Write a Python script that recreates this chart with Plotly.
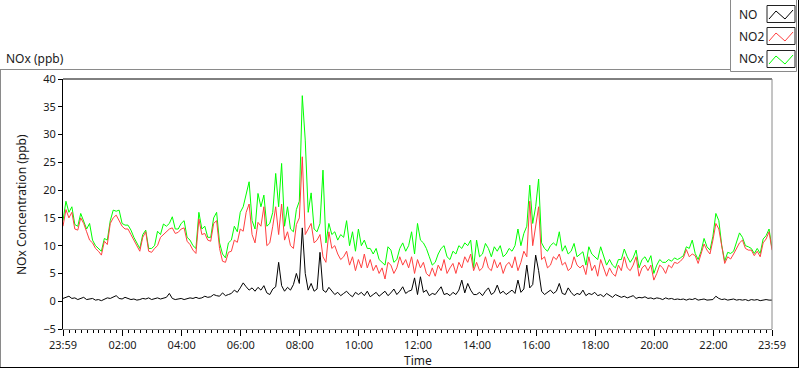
import plotly.graph_objects as go

# sample times in minutes after 23:59 (6-minute steps)
minutes = list(range(0, 1441, 6))

no = [0.5, 0.7, 0.9, 0.5, 0.6, 0.3, 0.5, 0.7, 0.3, 0.4,
      0.5, 0.2, 0.3, 0.1, 0.4, 0.6, 0.5, 0.8, 1.0, 0.5,
      0.4, 0.7, 0.5, 0.3, 0.4, 0.2, 0.3, 0.5, 0.4, 0.6,
      0.3, 0.5, 0.6, 0.4, 0.5, 0.7, 1.4, 0.5, 0.3, 0.4,
      0.5, 0.3, 0.4, 0.6, 0.5, 0.7, 0.5, 0.6, 0.9, 0.7,
      0.8, 1.2, 1.0, 0.9, 1.5, 1.0, 1.2, 1.4, 2.0, 1.6,
      2.4, 3.3, 2.6, 2.0, 2.4, 1.8, 2.5, 2.0, 2.8, 1.5,
      1.2, 2.2, 2.6, 7.0, 2.8, 1.8, 2.5, 2.0, 3.0, 5.0,
      3.2, 13.2, 5.0, 2.0, 3.2, 1.8, 2.2, 8.8, 2.0, 1.6,
      2.5, 1.8, 1.2, 1.6, 1.0, 1.4, 1.8, 1.2, 0.8, 1.6,
      1.2, 1.6, 1.0, 1.8, 0.8, 1.2, 1.6, 0.9, 1.4, 1.8,
      1.0, 1.5, 2.2, 1.2, 1.8, 2.6, 1.4, 1.8, 2.0, 4.2,
      1.2, 4.4, 1.6, 2.0, 1.0, 1.4, 1.2, 1.8, 2.6, 1.2,
      1.4, 1.0, 1.6, 1.2, 2.0, 3.8, 1.5, 3.2, 2.0, 1.2,
      1.2, 1.6, 1.0, 1.8, 2.4, 1.2, 1.6, 2.9, 1.4, 1.8,
      1.2, 1.6, 2.0, 1.4, 3.8, 1.6, 2.2, 6.5, 2.4, 3.0,
      8.3, 5.5, 1.8, 1.2, 1.6, 2.0, 1.4, 1.8, 3.2, 1.4,
      1.2, 2.4, 1.6, 1.0, 1.4, 1.2, 2.0, 1.0, 1.4, 1.2,
      1.6, 1.0, 1.2, 0.8, 1.4, 1.0, 0.7, 1.2, 0.9, 0.7,
      0.9, 0.6, 0.8, 1.0, 0.5, 0.7, 0.6, 0.8, 0.5, 0.6,
      0.4, 0.6, 0.5, 0.3, 0.6, 0.4, 0.5, 0.3, 0.4, 0.3,
      0.4, 0.2, 0.4, 0.3, 0.5, 0.2, 0.3, 0.4, 0.2, 0.3,
      0.3, 0.9, 0.5, 0.3, 0.4, 0.2, 0.3, 0.4, 0.2, 0.3,
      0.2, 0.3, 0.1, 0.3, 0.2, 0.3, 0.1, 0.2, 0.3, 0.2, 0.2]

no2 = [13.5, 16.5, 15, 16, 13, 12.8, 15, 14, 12.5, 11,
       10.5, 9.5, 9, 8.3, 10.8, 10.2, 14, 15, 15.5, 14.5,
       13.5, 13, 13, 12, 11, 10, 9, 11.5, 12.5, 9,
       8.8, 9.5, 10, 11.5, 12, 12.5, 13, 13.2, 12.2, 12.4,
       13, 13.2, 10.8, 10.2, 9.2, 8.6, 14.8, 12, 12.2, 11,
       10.8, 14, 14.5, 9.5, 7.2, 7, 8.8, 9, 11, 10.6,
       13, 12.6, 16, 17.5, 12, 10.5, 14.2, 13.5, 17, 10,
       10.5, 13.5, 17, 12, 17.5, 11, 12.5, 10, 9.5, 13.8,
       15, 26, 12, 13, 14, 10.5, 11, 12, 8, 7,
       12.5, 9.5, 10, 8.5, 7.5, 8, 9, 6.5, 8, 5.5,
       7.5, 6, 8.5, 6, 7.5, 5.5, 6.5, 5, 6, 4,
       7, 6.5, 5, 6, 8, 6.5, 7.5, 6, 8, 5,
       7.5, 6, 7, 5, 4.5, 6, 4.5, 6.5, 5.5, 7.5,
       5, 6, 6.8, 5, 7, 6, 8, 7, 8.5, 5.5,
       7, 5.5, 6, 8, 6, 5.5, 7.5, 6, 7, 5,
       6.5, 7, 6, 8, 5.5, 7, 9, 8, 18, 10,
       14, 17, 7.5, 8, 6, 6.5, 8, 7.5, 8.5, 6.5,
       7, 5.5, 6, 8, 6.5, 6, 6.5, 4.8, 8, 5.5,
       6.5, 4.5, 7.5, 6, 4.5, 6, 5, 4.5, 6.5, 5.5,
       8, 6, 5.5, 6.5, 8, 4.5, 6, 6.5, 5.5, 6.5,
       3.8, 5, 6.5, 6, 5, 6.5, 6, 7, 6.8, 7.2,
       7.8, 9.3, 8, 8.5, 8.2, 6.8, 8.5, 10.3, 9.2, 8.5,
       11, 14, 13, 9.5, 6.8, 8, 7.6, 8.5, 9.5, 10.5,
       11, 9.5, 9.2, 9.2, 8.2, 9, 8, 10.5, 11.2, 12.5, 9.2]

nox = [14.5, 18, 16, 17, 13.8, 13.5, 15.8, 14.5, 13, 14,
       11, 10, 9.5, 9, 11.3, 11, 14.5, 16.4, 16.2, 16.4,
       14, 13.7, 13.7, 12.8, 11.5, 10.5, 9.5, 12, 12.8, 9.5,
       9.5, 10, 12.6, 12, 13.9, 13.5, 14, 15.2, 13, 13,
       14, 14.5, 11.5, 11, 10, 9.5, 16, 13, 13.5, 11.5,
       11.5, 15, 16, 10.5, 8.5, 7.8, 10.5, 11, 13.5, 12.5,
       16, 17, 19.5, 21.5, 14.5, 13, 19.4, 17, 19.1, 13.5,
       14, 16, 23, 17, 24.8, 13.5, 17, 13, 12.5, 16.5,
       18, 37, 29, 16, 19.5, 13, 12.5, 14, 23.6, 10.5,
       14, 12, 12.5, 11, 12, 11.5, 14.5, 10, 12.5, 9,
       13, 10, 11, 9.5, 9.5, 8.5, 9.5, 7.5, 7, 6.5,
       9.8, 9.2, 7, 7.5, 9.5, 10.5, 9, 10, 12.5, 8.5,
       14, 11, 10.5, 9.5, 8, 6.5, 7, 8.5, 9.5, 10,
       8, 7.5, 9, 8.5, 10, 9.5, 10.5, 10, 11, 6,
       11, 8, 8.5, 10.4, 9.5, 8, 9.8, 9, 10, 8,
       8.5, 9.5, 9, 10, 13, 10, 12.2, 13.5, 20.9, 14,
       17, 22, 10.5, 9.5, 9, 10, 10.5, 10, 12.5, 9,
       10, 8.5, 9, 10.4, 8, 8.5, 8.9, 6.5, 9.8, 8.5,
       8, 7.5, 9.8, 8, 6.5, 7.5, 6.5, 6, 7.5, 7.5,
       9.4, 8, 7, 7.8, 9.2, 6, 7.5, 8, 7, 8.2,
       5, 6.5, 7.5, 7, 7, 7.5, 7.2, 7.8, 7.5, 7.8,
       8.2, 9.8, 9.5, 11, 8.6, 7.5, 9, 11.3, 9.8, 9.2,
       11.7, 15.8, 14.5, 10, 7.2, 8.8, 8.6, 9, 10.5, 12.3,
       11.5, 10, 9.8, 9.5, 8.6, 9.5, 8.6, 11.2, 11.8, 13, 9.5]

tick_minutes = [0, 121, 241, 361, 481, 601, 721, 841, 961, 1081, 1201, 1321, 1440]
tick_labels = ["23:59", "02:00", "04:00", "06:00", "08:00", "10:00", "12:00",
               "14:00", "16:00", "18:00", "20:00", "22:00", "23:59"]
y_ticks = [-5, 0, 5, 10, 15, 20, 25, 30, 35, 40]

series_names = ["NO", "NO2", "NOx"]
series_colors = ["#000000", "#FF4040", "#00FF00"]

W, H = 800, 369
L, R, T, B = 63, 28, 79, 40
PW, PH = W - L - R, H - T - B


def px(x):
    return (x - L) / PW


def py(y):
    return (H - B - y) / PH


FONT = "Noto Sans"
TXT = "#1a1a1a"

fig = go.Figure()
for name, ys, col in [("NOx", nox, series_colors[2]), ("NO2", no2, series_colors[1]), ("NO", no, series_colors[0])]:
    fig.add_trace(go.Scatter(x=minutes, y=ys, mode="lines", name=name,
                             line=dict(color=col, width=1), showlegend=False))

shapes = []
# plot frame: top black, right gray
shapes.append(dict(type="line", xref="paper", yref="paper", x0=0, x1=1, y0=1, y1=1,
                   line=dict(color="black", width=1)))
shapes.append(dict(type="line", xref="paper", yref="paper", x0=1, x1=1, y0=0, y1=1,
                   line=dict(color="#8a8a8a", width=1)))
# outer frame
shapes.append(dict(type="line", xref="paper", yref="paper", x0=px(0.5), x1=px(0.5), y0=py(69.5), y1=py(367.5),
                   line=dict(color="#8a8a8a", width=1)))
shapes.append(dict(type="line", xref="paper", yref="paper", x0=px(0), x1=px(730), y0=py(69.5), y1=py(69.5),
                   line=dict(color="#8a8a8a", width=1)))
shapes.append(dict(type="line", xref="paper", yref="paper", x0=px(0), x1=px(799), y0=py(367.5), y1=py(367.5),
                   line=dict(color="black", width=1)))
shapes.append(dict(type="line", xref="paper", yref="paper", x0=px(798.5), x1=px(798.5), y0=py(0), y1=py(367.5),
                   line=dict(color="black", width=1)))
# legend box
shapes.append(dict(type="rect", xref="paper", yref="paper", x0=px(730.5), x1=px(796.5), y0=py(-2), y1=py(71.5),
                   line=dict(color="#8a8a8a", width=1), fillcolor="white"))

annotations = []
legend_centers = [14, 36, 59]
for name, col, cy in zip(series_names, series_colors, legend_centers):
    annotations.append(dict(x=px(737), y=py(cy), xref="paper", yref="paper", text=name,
                            showarrow=False, xanchor="left", yanchor="middle",
                            font=dict(family=FONT, size=12, color=TXT)))
    shapes.append(dict(type="rect", xref="paper", yref="paper", x0=px(767), x1=px(795),
                       y0=py(cy - 8.5), y1=py(cy + 8.5),
                       line=dict(color="#222222", width=1), fillcolor="white"))
    pts = [(769, cy + 5), (776, cy - 3), (785, cy + 5), (793, cy - 4)]
    path = "M " + " L ".join(f"{px(a):.5f},{py(b):.5f}" for a, b in pts)
    shapes.append(dict(type="path", xref="paper", yref="paper", path=path,
                       line=dict(color=col, width=1)))

annotations.append(dict(x=px(4), y=py(59), xref="paper", yref="paper", text="NOx (ppb)",
                        showarrow=False, xanchor="left", yanchor="middle",
                        font=dict(family=FONT, size=12, color=TXT)))
annotations.append(dict(x=px(21), y=py(205), xref="paper", yref="paper",
                        text="NOx Concentration (ppb)", textangle=-90,
                        showarrow=False, xanchor="center", yanchor="middle",
                        font=dict(family=FONT, size=12, color=TXT)))
annotations.append(dict(x=px(417.5), y=py(360), xref="paper", yref="paper", text="Time",
                        showarrow=False, xanchor="center", yanchor="middle",
                        font=dict(family=FONT, size=12, color=TXT)))

fig.update_layout(
    width=W, height=H,
    margin=dict(l=L, r=R, t=T, b=B, pad=0),
    paper_bgcolor="white", plot_bgcolor="white",
    font=dict(family=FONT, size=11, color=TXT),
    shapes=shapes, annotations=annotations,
    showlegend=False, hovermode=False,
)
fig.update_xaxes(range=[0, 1440], tickmode="array", tickvals=tick_minutes, ticktext=tick_labels,
                 ticks="outside", ticklen=6, tickcolor="black", showgrid=False, zeroline=False,
                 showline=True, linecolor="#8a8a8a", linewidth=1,
                 tickfont=dict(family=FONT, size=11, color=TXT),
                 minor=dict(tickmode="linear", tick0=1, dtick=12, ticklen=3, ticks="outside",
                            tickcolor="black", showgrid=False))
fig.update_yaxes(range=[-5, 40], tickmode="array", tickvals=y_ticks,
                 ticks="outside", ticklen=4, tickcolor="black", showgrid=False, zeroline=False,
                 showline=True, linecolor="black", linewidth=1,
                 tickfont=dict(family=FONT, size=11, color=TXT))

fig.write_html("out.html", config={"displayModeBar": False, "staticPlot": True},
               post_script="document.body.style.margin='0';document.body.style.overflow='hidden';")
